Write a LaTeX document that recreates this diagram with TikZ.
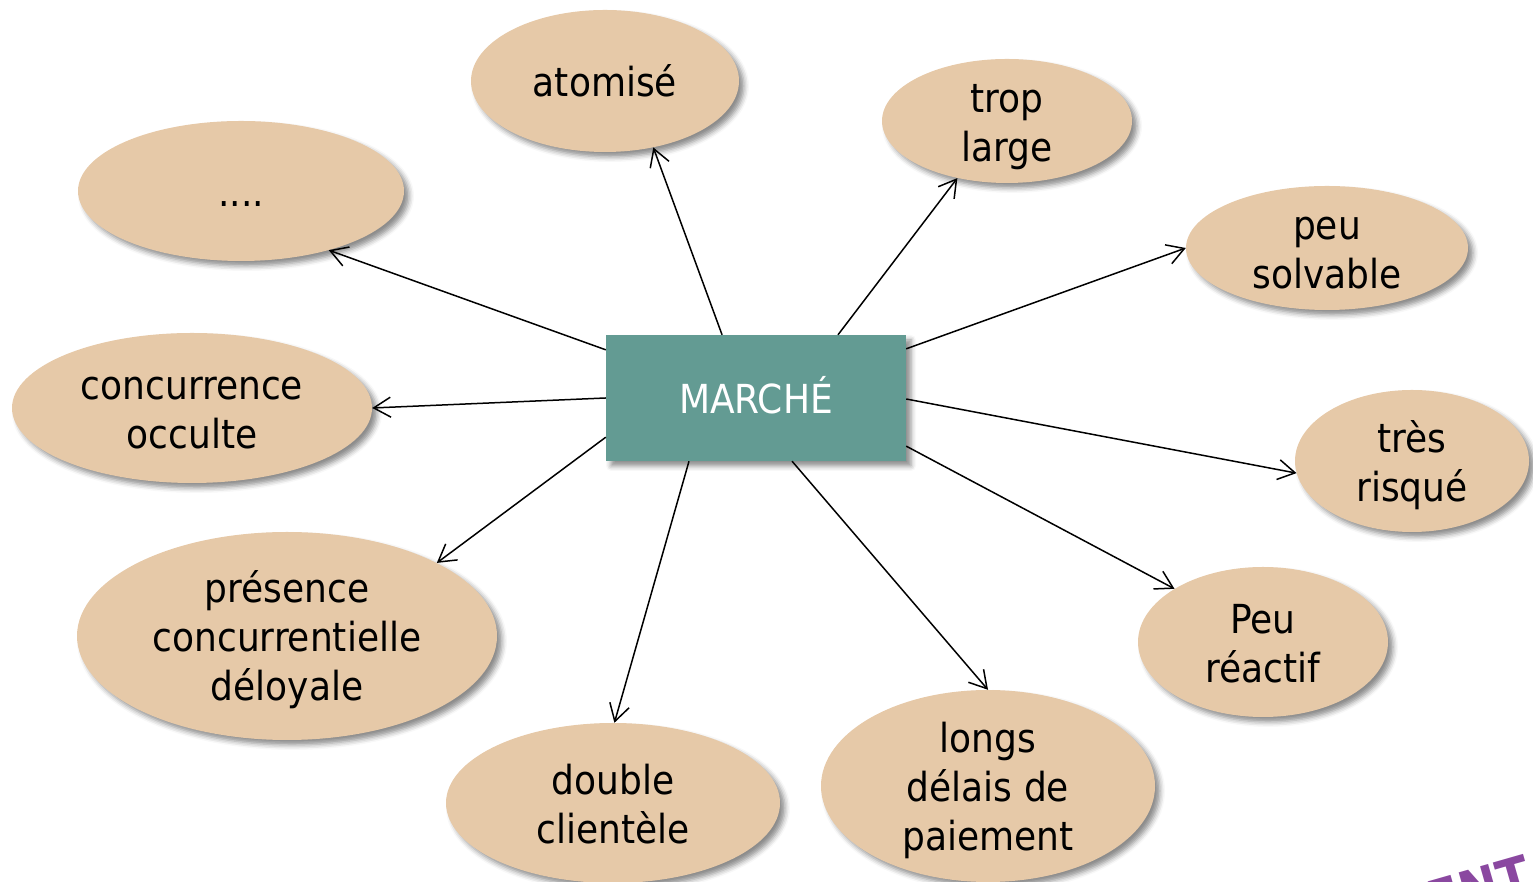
\documentclass[tikz,border=0pt]{standalone}
\usepackage{fontspec}
\setmainfont{DejaVu Sans Condensed}
\usetikzlibrary{shapes.geometric,arrows.meta,calc,shadows.blur}
\definecolor{ovalfill}{RGB}{230,201,168}
\definecolor{boxfill}{RGB}{99,155,147}
\definecolor{wmark}{RGB}{138,72,160}
\newcommand\hiStrut{\rule{0pt}{1em}}
\newcommand\loStrut{\rule[-0.21em]{0pt}{0pt}}
\tikzset{
  oval/.style={ellipse, fill=ovalfill, inner sep=-20pt, align=center,
    font=\fontsize{40}{49}\selectfont, text=black,
    blur shadow={shadow xshift=5pt, shadow yshift=-5pt, shadow blur radius=5pt, shadow opacity=45}},
  centerbox/.style={rectangle, fill=boxfill, inner sep=0pt, text=white,
    minimum width=300pt, minimum height=126pt,
    font=\fontsize{40}{48}\selectfont,
    blur shadow={shadow xshift=5pt, shadow yshift=-5pt, shadow blur radius=5pt, shadow opacity=45}},
  link/.style={line width=1.5pt, -{Straight Barb[length=17pt,width=20pt,line width=1.5pt]}}
}
\begin{document}
\begin{tikzpicture}[x=1pt,y=1pt]
\useasboundingbox (0,0) rectangle (1533,882);
\clip (0,0) rectangle (1533,882);
\node[centerbox] (m) at (756,484) {MARCHÉ\rule[-0.13em]{0pt}{0pt}};
\node[oval, minimum width=268pt, minimum height=142pt] (atom) at (605,801) {\hiStrut atomisé\loStrut};
\node[oval, minimum width=250pt, minimum height=124pt] (trop) at (1007,761) {\hiStrut trop\\large\loStrut};
\node[oval, minimum width=326pt, minimum height=140pt] (dots) at (241,691) {\hiStrut ....\loStrut};
\node[oval, minimum width=282pt, minimum height=124pt] (peu) at (1327,634) {\hiStrut peu\\solvable\loStrut};
\node[oval, minimum width=234pt, minimum height=142pt] (tres) at (1412,421) {\hiStrut très\\risqué\loStrut};
\node[oval, minimum width=250pt, minimum height=150pt] (reac) at (1263,240) {\hiStrut Peu\\réactif\loStrut};
\node[oval, minimum width=334pt, minimum height=192pt] (longs) at (988,96) {\hiStrut longs\\délais de\\paiement\loStrut};
\node[oval, minimum width=334pt, minimum height=160pt] (double) at (613,79) {\hiStrut double\\clientèle\loStrut};
\node[oval, minimum width=420pt, minimum height=208pt] (pres) at (287,246) {\hiStrut présence\\concurrentielle\\déloyale\loStrut};
\node[oval, minimum width=360pt, minimum height=150pt] (conc) at (192,474) {\hiStrut concurrence\\occulte\loStrut};
\node[rotate=16, anchor=north west, inner sep=0pt, text=wmark,
  font=\fontsize{52}{52}\selectfont\bfseries] (wm) at (1424,-1) {ENT};
\draw[link] ($(m.north west)!0.387!(m.north east)$) -- (atom.-54);
\draw[link] ($(m.north west)!0.773!(m.north east)$) -- (trop.229);
\draw[link] ($(m.south east)!0.889!(m.north east)$) -- (peu.180);
\draw[link] ($(m.south east)!0.492!(m.north east)$) -- (tres.186);
\draw[link] ($(m.south east)!0.119!(m.north east)$) -- (reac.149);
\draw[link] ($(m.south west)!0.62!(m.south east)$) -- (longs.90);
\draw[link] ($(m.south west)!0.277!(m.south east)$) -- (double.89);
\draw[link] ($(m.south west)!0.19!(m.north west)$) -- (pres.26);
\draw[link] ($(m.south west)!0.5!(m.north west)$) -- (conc.0);
\draw[link] ($(m.south west)!0.881!(m.north west)$) -- (dots.-34);
\end{tikzpicture}
\end{document}
